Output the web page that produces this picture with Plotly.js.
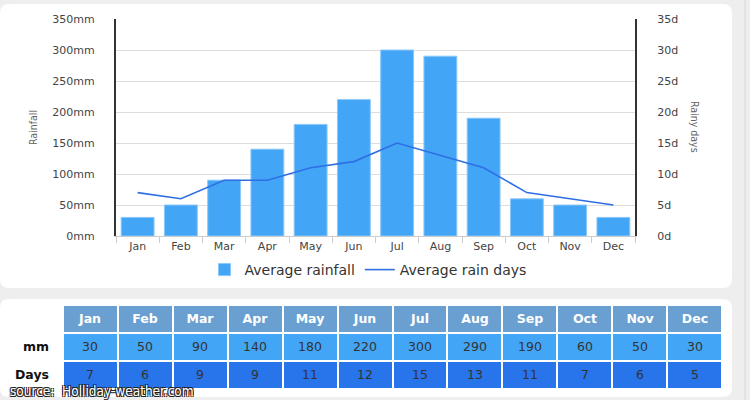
<!DOCTYPE html>
<html>
<head>
<meta charset="utf-8">
<script src="https://cdn.plot.ly/plotly-3.0.1.min.js"></script>
<style>
  html, body { margin: 0; padding: 0; background: #eeeeee; }
  #chart { width: 750px; height: 400px; }
</style>
</head>
<body>
<div id="chart"></div>
<script>
// ---- Data ----
const months = ['Jan','Feb','Mar','Apr','May','Jun','Jul','Aug','Sep','Oct','Nov','Dec'];
const rainfallMm = [30, 50, 90, 140, 180, 220, 300, 290, 190, 60, 50, 30];
const rainDays = [7, 6, 9, 9, 11, 12, 15, 13, 11, 7, 6, 5];
const mmTicks = [0, 50, 100, 150, 200, 250, 300, 350];
const dayTicks = [0, 5, 10, 15, 20, 25, 30, 35];
const rowLabels = ['mm', 'Days'];
const seriesNames = ['Average rainfall', 'Average rain days'];
const axisTitles = ['Rainfall', 'Rainy days'];
const sourceText = 'source:  Holliday-weather.com';

// ---- Styling ----
const W = 750, H = 400;
const barColor = '#42a5f5';
const lineColor = '#2f6fe4';
const headColor = '#6a9fd1';
const daysColor = '#2874ea';
const fontFam = '"DejaVu Sans", Verdana, sans-serif';
const narrowFam = '"Liberation Sans Narrow", "DejaVu Sans Condensed", sans-serif';

const px = v => v / W;
const py = v => 1 - v / H;

function roundRect(x0, y0, x1, y1, r) {
  const rx = r / W, ry = r / H;
  const X0 = px(x0), X1 = px(x1), Y0 = py(y0), Y1 = py(y1);
  return `M ${X0 + rx},${Y0} L ${X1 - rx},${Y0} Q ${X1},${Y0} ${X1},${Y0 - ry} ` +
         `L ${X1},${Y1 + ry} Q ${X1},${Y1} ${X1 - rx},${Y1} L ${X0 + rx},${Y1} ` +
         `Q ${X0},${Y1} ${X0},${Y1 + ry} L ${X0},${Y0 - ry} Q ${X0},${Y0} ${X0 + rx},${Y0} Z`;
}

const barTrace = {
  type: 'bar', x: months, y: rainfallMm, name: seriesNames[0],
  marker: { color: barColor, line: { color: '#8cc8f8', width: 1 } },
  xaxis: 'x', yaxis: 'y', hoverinfo: 'skip'
};
const lineTrace = {
  type: 'scatter', mode: 'lines', x: months, y: rainDays, name: seriesNames[1],
  line: { color: lineColor, width: 1.6 },
  xaxis: 'x', yaxis: 'y2', hoverinfo: 'skip'
};

// ---- Table drawn as heatmap cells (row 0 = Days, row 1 = mm, row 2 = header) ----
const tableScale = [[0, daysColor], [0.5, barColor], [1, headColor]];
const tableTrace = {
  type: 'heatmap',
  x: months,
  y: [0, 1, 2],
  z: [months.map(() => 0), months.map(() => 1), months.map(() => 2)],
  zmin: 0, zmax: 2,
  text: [
    rainDays.map(String),
    rainfallMm.map(String),
    months.map(m => '<b><span style="color:white">' + m + '</span></b>')
  ],
  colorscale: tableScale, showscale: false,
  xgap: 2, ygap: 2,
  texttemplate: '%{text}',
  textfont: { family: fontFam, size: 12.5, color: '#333' },
  xaxis: 'x2', yaxis: 'y3', hoverinfo: 'skip', showlegend: false
};

const layout = {
  width: W, height: H,
  margin: { l: 0, r: 0, t: 0, b: 0 },
  paper_bgcolor: '#eeeeee',
  plot_bgcolor: 'rgba(0,0,0,0)',
  showlegend: true,
  bargap: 0.24,
  font: { family: fontFam, color: '#444' },
  xaxis: {
    domain: [px(116), px(635)],
    anchor: 'y',
    type: 'category',
    range: [-0.5, 11.5],
    showgrid: false,
    showline: true, linecolor: '#cccccc', linewidth: 1,
    ticks: 'outside', tickson: 'boundaries', ticklen: 6, tickcolor: '#cccccc',
    tickfont: { family: fontFam, size: 11, color: '#444' },
    fixedrange: true
  },
  yaxis: {
    domain: [py(236), py(19)],
    anchor: 'x',
    range: [0, 350],
    tickmode: 'array',
    tickvals: mmTicks,
    ticktext: mmTicks.map(v => v + 'mm'),
    showgrid: true, gridcolor: '#dddddd', gridwidth: 1,
    zeroline: false,
    showline: true, linecolor: '#333333', linewidth: 2,
    ticks: '', ticklabelstandoff: 17,
    tickfont: { family: fontFam, size: 11, color: '#444' },
    fixedrange: true
  },
  yaxis2: {
    domain: [py(236), py(19)],
    anchor: 'x', overlaying: 'y', side: 'right',
    range: [0, 35],
    tickmode: 'array',
    tickvals: dayTicks,
    ticktext: dayTicks.map(v => v + 'd'),
    showgrid: false, zeroline: false,
    showline: true, linecolor: '#333333', linewidth: 2,
    ticks: '', ticklabelstandoff: 18,
    tickfont: { family: fontFam, size: 11, color: '#444' },
    fixedrange: true
  },
  xaxis2: {
    domain: [px(63), px(722)],
    anchor: 'y3',
    type: 'category',
    range: [-0.5, 11.5],
    showgrid: false, showline: false, zeroline: false,
    showticklabels: false, ticks: '',
    fixedrange: true
  },
  yaxis3: {
    domain: [py(389), py(305)],
    anchor: 'x2',
    type: 'linear',
    range: [-0.5, 2.5],
    tickmode: 'array',
    tickvals: [1, 0],
    ticktext: rowLabels.map(l => '<b>' + l + '</b>'),
    showgrid: false, showline: false, zeroline: false,
    ticks: '', ticklabelstandoff: 13,
    tickfont: { family: fontFam, size: 12.5, color: '#111' },
    fixedrange: true
  },
  legend: {
    orientation: 'h',
    x: px(368), xanchor: 'center',
    y: py(270), yanchor: 'middle',
    bgcolor: 'rgba(0,0,0,0)',
    font: { family: fontFam, size: 14, color: '#333' },
    itemwidth: 30
  },
  shapes: [
    { type: 'path', xref: 'paper', yref: 'paper', path: roundRect(0, 4, 732, 288, 9),
      fillcolor: 'white', line: { width: 0 }, layer: 'below' },
    { type: 'path', xref: 'paper', yref: 'paper', path: roundRect(0, 299, 732, 397, 9),
      fillcolor: 'white', line: { width: 0 }, layer: 'below' },
    { type: 'rect', xref: 'paper', yref: 'paper', x0: px(744), x1: px(746), y0: 0, y1: 1,
      fillcolor: '#e2e2e2', line: { width: 0 }, layer: 'below' }
  ],
  annotations: [
    { xref: 'paper', yref: 'paper', x: px(33), y: py(128), text: axisTitles[0],
      showarrow: false, textangle: -90, xanchor: 'center', yanchor: 'middle',
      font: { family: narrowFam, size: 10.5, color: '#666' } },
    { xref: 'paper', yref: 'paper', x: px(695), y: py(127), text: axisTitles[1],
      showarrow: false, textangle: 90, xanchor: 'center', yanchor: 'middle',
      font: { family: narrowFam, size: 10.5, color: '#666' } },
    { xref: 'paper', yref: 'paper', x: px(8), y: py(391), text: sourceText,
      showarrow: false, xanchor: 'left', yanchor: 'middle',
      font: { family: narrowFam, size: 13.5, color: 'white',
              shadow: '1px 1px 0 #222, -1px -1px 0 #222, 1px -1px 0 #222, -1px 1px 0 #222' } }
  ]
};

Plotly.newPlot('chart', [barTrace, lineTrace, tableTrace], layout, { staticPlot: true, displayModeBar: false });
</script>
</body>
</html>
